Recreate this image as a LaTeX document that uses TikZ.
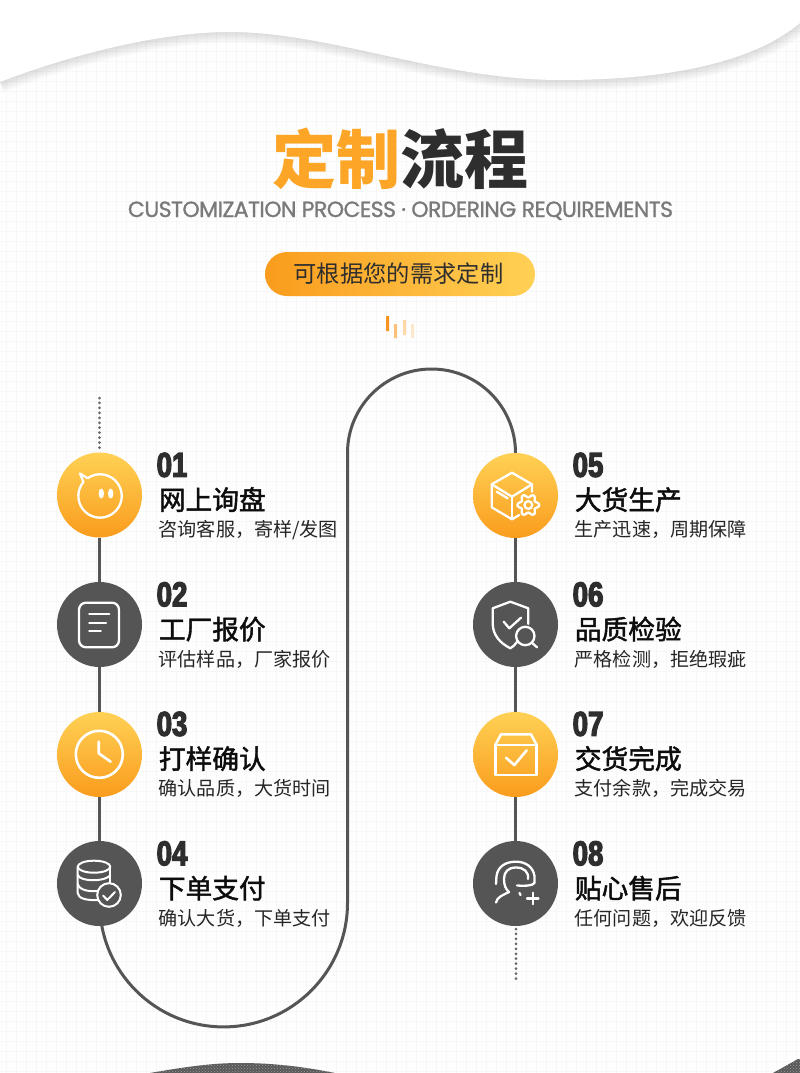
\documentclass[tikz,border=0pt]{standalone}
\usepackage{fontspec}
\usetikzlibrary{patterns}
\setmainfont{Liberation Sans}
\newfontfamily\cjk{Noto Sans CJK SC}
\newfontfamily\cjkhead[FakeBold=1.7]{Noto Sans CJK SC}
\newfontfamily\numf[FakeStretch=0.80,FakeBold=3.6]{Liberation Sans}
\newfontfamily\engf[FakeBold=1.1,LetterSpace=-2.5]{Poppins}
\definecolor{ink}{HTML}{2E2E2E}
\definecolor{dark}{HTML}{555555}
\definecolor{amberA}{HTML}{FFD155}
\definecolor{amberB}{HTML}{FA9C1D}
\definecolor{titleor}{HTML}{FCA526}
\definecolor{gridc}{HTML}{F7F7F7}
\definecolor{paper}{HTML}{FEFEFE}
\tikzset{
  warm/.style={circle,minimum size=85pt,inner sep=0pt,top color=amberA,bottom color=amberB,draw=none},
  cool/.style={circle,minimum size=85pt,inner sep=0pt,fill=dark,draw=none},
  linkline/.style={draw=dark,line width=3.4pt},
  dotline/.style={draw=dark!90,line width=3pt,line cap=round,dash pattern=on 0pt off 4.95pt},
  iconline/.style={draw=white,line width=2.3pt,line cap=round,line join=round},
  numtext/.style={anchor=base west,inner sep=0pt,text=ink,font=\fontsize{34.5}{34.5}\numf\bfseries},
  headtext/.style={anchor=base west,inner sep=0pt,text=black!95,font=\fontsize{26.7}{26.7}\cjkhead},
  subtext/.style={anchor=base west,inner sep=0pt,text=black!85,font=\fontsize{19.1}{19.1}\cjk},
}
\pgfdeclarelayer{bgpaper}
\pgfdeclarelayer{links}
\pgfsetlayers{bgpaper,links,main}
\begin{document}
\begin{tikzpicture}[x=1pt,y=-1pt]
\useasboundingbox (0,0) rectangle (800,1073);
\begin{pgfonlayer}{bgpaper}
  \fill[paper] (0,0) rectangle (800,1073);
  \foreach \g in {-4,6,...,800} \draw[gridc,line width=0.7pt] (\g+0.7,0) -- (\g+0.7,1073);
  \foreach \g in {2,12,...,1072} \draw[gridc,line width=0.7pt] (0,\g-0.3) -- (800,\g-0.3);
  % wave with soft shadow
  \foreach \w in {2,4,...,22}
    \draw[black,opacity=0.010,line width=\w pt]
      (0,82) .. controls (70,55) and (160,32) .. (230,32)
      .. controls (330,32) and (440,80) .. (561,80)
      .. controls (660,80) and (750,65) .. (800,23);
  \fill[white] (0,0) -- (0,82) .. controls (70,55) and (160,32) .. (230,32)
      .. controls (330,32) and (440,80) .. (561,80)
      .. controls (660,80) and (750,65) .. (800,23) -- (800,0) -- cycle;
  % bottom textured shapes
  \fill[black!65] (150,1073) .. controls (190,1066) and (215,1063) .. (240,1063)
      .. controls (270,1063) and (300,1066) .. (335,1073) -- cycle;
  \fill[black!65] (773,1073) -- (798,1059) -- (800,1059) -- (800,1073) -- cycle;
  \fill[pattern=crosshatch dots,pattern color=black!40] (150,1073) .. controls (190,1066) and (215,1063) .. (240,1063)
      .. controls (270,1063) and (300,1066) .. (335,1073) -- cycle;
  \fill[pattern=crosshatch dots,pattern color=black!40] (773,1073) -- (798,1059) -- (800,1059) -- (800,1073) -- cycle;
\end{pgfonlayer}

% title block
\node[inner sep=0pt,anchor=base] (title) at (400,183)
  {\fontsize{64}{64}\cjk\bfseries\textcolor{titleor}{定制}\textcolor{ink}{流程}};
\node[inner sep=0pt,anchor=base,text=black!52] (subtitle) at (400.5,217)
  {\fontsize{22}{22}\engf CUSTOMIZATION PROCESS · ORDERING REQUIREMENTS};
\node[rounded corners=22pt,minimum width=270pt,minimum height=44pt,inner sep=0pt,left color=amberB,right color=amberA] (pill) at (400,274) {};
\node[inner sep=0pt,anchor=base,text=ink] (pilltext) at (398.5,282)
  {\fontsize{23.3}{23.3}\cjk 可根据您的需求定制};
% small bars
\fill[rounded corners=0.5pt,color={rgb,255:red,247;green,148;blue,29}] (386,316) rectangle (389,331);
\fill[rounded corners=0.5pt,color={rgb,255:red,252;green,192;blue,122}] (394,324) rectangle (397,338);
\fill[rounded corners=0.5pt,color={rgb,255:red,253;green,217;blue,168}] (403,320) rectangle (406,335);
\fill[rounded corners=0.5pt,color={rgb,255:red,253;green,231;blue,207}] (411,324) rectangle (414,338);

% circles
\node[warm] (c1) at (99.5,495) {};
\node[cool] (c2) at (99.5,624.5) {};
\node[warm] (c3) at (99.5,754.5) {};
\node[cool] (c4) at (99.5,883.5) {};
\node[warm] (c5) at (515.5,495.5) {};
\node[cool] (c6) at (515.5,624.5) {};
\node[warm] (c7) at (515.5,754.5) {};
\node[cool] (c8) at (515.5,883.5) {};

\coordinate (dotA) at (99.5,398);
\coordinate (dotB) at (516,929);
\coordinate (dotC) at (516,981);
\coordinate (dotD) at (99.5,448);
\begin{pgfonlayer}{links}
  \draw[linkline] (c1) -- (c2);
  \draw[linkline] (c2) -- (c3);
  \draw[linkline] (c3) -- (c4);
  \draw[linkline] (c5) -- (c6);
  \draw[linkline] (c6) -- (c7);
  \draw[linkline] (c7) -- (c8);
  \draw[draw=dark,line width=3pt] (c4.center) -- (99.7,903) arc[start angle=180,end angle=360,radius=123.9pt]
     -- (347.5,453) arc[start angle=180,end angle=0,radius=84pt] -- (c5.center);
  \draw[dotline] (dotA) -- (dotD);
  \draw[dotline] (dotB) -- (dotC);
\end{pgfonlayer}

% labels
\foreach \nm/\tx/\ty/\num/\hd/\sb in {
  a/157/495/01/网上询盘/{咨询客服，寄样/发图},
  b/157/624.5/02/工厂报价/评估样品，厂家报价,
  c/157/754/03/打样确认/确认品质，大货时间,
  d/157/883.5/04/下单支付/确认大货，下单支付,
  e/573/495/05/大货生产/生产迅速，周期保障,
  f/573/624.5/06/品质检验/严格检测，拒绝瑕疵,
  g/573/754/07/交货完成/支付余款，完成交易,
  h/573/883.5/08/贴心售后/任何问题，欢迎反馈}
{
  \node[numtext] (n\nm) at (\tx-0.5,\ty-18.2) {\num};
  \node[headtext] (t\nm) at (\tx+1.7,\ty+14.8) {\hd};
  \node[subtext] (s\nm) at (\tx+1.5,\ty+41.8) {\sb};
}

% icon 1: chat face
\draw[iconline] (80,473.5) -- (87.6,478.2) arc[start angle=125,end angle=-220,radius=21.7pt] -- cycle;
\fill[white] (101.3,493.5) ellipse[x radius=2.7pt,y radius=5pt];
\fill[white] (110.7,493.5) ellipse[x radius=2.7pt,y radius=5pt];

% icon 2: note
\draw[iconline] (79,602.7) [rounded corners=7pt] rectangle (119,647.3);
\draw[iconline] (89.3,614) -- (109.3,614);
\draw[iconline] (89.3,622.7) -- (106,622.7);
\draw[iconline] (89.3,630.7) -- (100.7,630.7);

% icon 3: clock
\draw[iconline,line width=2.6pt] (99.3,754.3) circle[radius=23.5pt];
\draw[iconline,line width=2.6pt] (98.7,741.7) -- (98.7,753.3) -- (110.7,761.7);

% icon 4: database
\draw[iconline,line width=2pt] (94,866.7) ellipse[x radius=16.3pt,y radius=6pt];
\draw[iconline,line width=2pt] (77.7,866.7) -- (77.7,893) .. controls (78,899) and (88,900.5) .. (98,900);
\draw[iconline,line width=2pt] (110.3,866.7) -- (110.3,884);
\draw[iconline,line width=2pt] (77.7,875) .. controls (80,882) and (106,882) .. (110.3,875);
\draw[iconline,line width=2pt] (77.7,884) .. controls (80,891) and (90,891.5) .. (98,891);
\draw[iconline,line width=2pt,fill=dark] (109,895) circle[radius=11.8pt];
\draw[iconline,line width=2pt] (103,895.5) -- (107.3,900) -- (115,892);

% icon 5: cube and gear
\draw[iconline] (532,491.7) -- (532,484.3) -- (512,472.7) -- (491.7,484.3) -- (491.7,507.3) -- (512,519.3) -- (519.3,515);
\draw[iconline] (491.7,484.3) -- (512,496.7) -- (532,484.3);
\draw[iconline] (512,496.7) -- (512,519.3);
\draw[iconline] (496.7,491.7) -- (507.7,498.3);
\draw[iconline] plot[domain=0:360,samples=121,smooth] ({528.3+(9.2+1.7*cos(6*\x))*cos(\x)},{505+(9.2+1.7*cos(6*\x))*sin(\x)}) -- cycle;
\draw[iconline] (528.3,505) circle[radius=3.9pt];

% icon 6: shield and magnifier
\draw[iconline] (517,642) .. controls (515,645) and (512.5,647) .. (510.3,648.3)
   .. controls (500,643) and (492.7,635) .. (492.7,623.3) -- (492.7,608.3) -- (510.3,601.7) -- (528.3,608.3) -- (528.3,624);
\draw[iconline] (503.7,621.7) -- (509.3,628.3) -- (521,617.7);
\draw[iconline,fill=dark] (525.3,636) circle[radius=9.2pt];
\draw[iconline] (532,642.8) -- (537,647.3);

% icon 7: parcel
\draw[iconline,line width=2.5pt] (495.3,745) -- (536.7,745) -- (536.7,775) -- (495.3,775) -- cycle;
\draw[iconline,line width=2.5pt] (495.3,745) -- (501,734.3) -- (531,734.3) -- (536.7,745);
\draw[iconline,line width=2.6pt] (506,757.7) -- (514.3,765) -- (526.7,750.3);

% icon 8: support agent
\draw[iconline] (496,884) -- (496.5,876) .. controls (498,866) and (506,861.7) .. (516,861.7)
   .. controls (526,861.7) and (533,867) .. (534.5,876) -- (534.5,883);
\draw[iconline] (534.5,883) .. controls (532,886) and (525,886) .. (517,885.5);
\draw[iconline] (528,879) .. controls (529,872) and (524,867.5) .. (516,867.5)
   .. controls (508,867.5) and (504,872) .. (504,879) .. controls (504,885) and (505.5,889) .. (509,892);
\draw[iconline] (496,902.5) .. controls (497,897) and (503,895) .. (509,892);
\draw[iconline] (519.5,893) -- (520.5,895);
\draw[iconline] (527,898.5) -- (538.5,898.5);
\draw[iconline] (532.7,892.7) -- (532.7,904.2);
\end{tikzpicture}
\end{document}
